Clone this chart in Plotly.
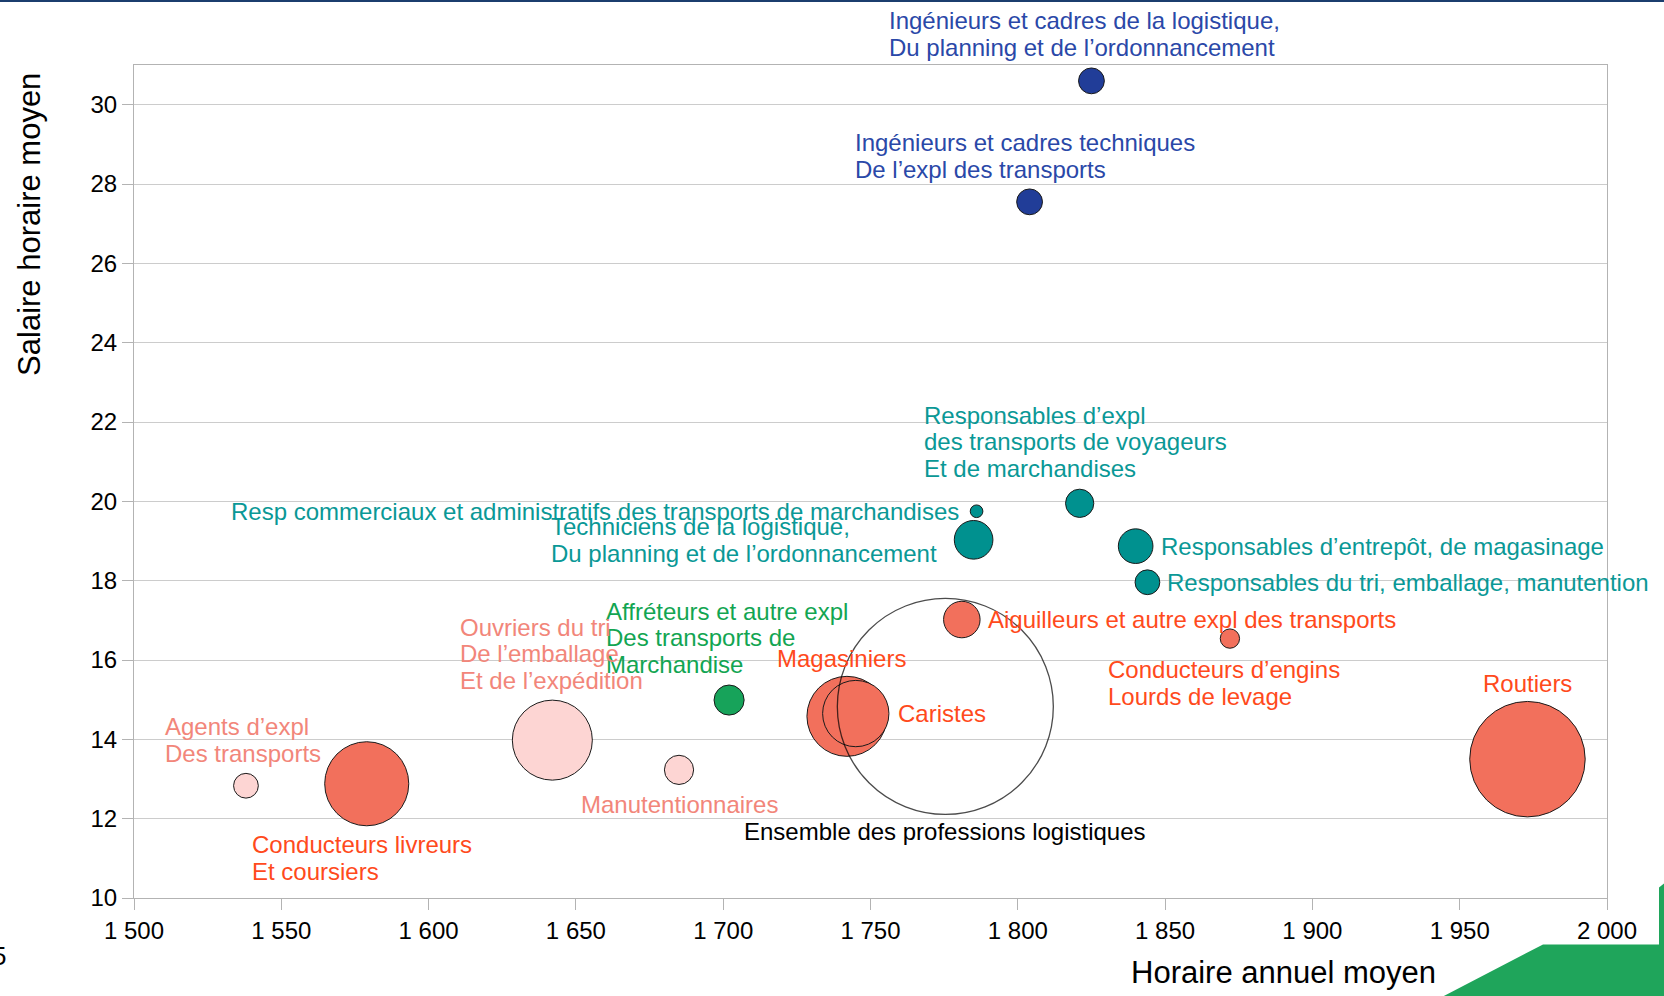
import plotly.graph_objects as go

# ---------- données ----------
metiers = [
    "Ingénieurs et cadres de la logistique",
    "Ingénieurs et cadres techniques",
    "Responsables d'expl voyageurs/marchandises",
    "Resp commerciaux et administratifs",
    "Techniciens de la logistique",
    "Responsables d'entrepôt",
    "Responsables du tri",
    "Aiguilleurs",
    "Conducteurs d'engins",
    "Routiers",
    "Magasiniers",
    "Caristes",
    "Affréteurs",
    "Manutentionnaires",
    "Ouvriers du tri",
    "Conducteurs livreurs",
    "Agents d'expl",
]
horaire_annuel = [1825, 1804, 1821, 1786, 1785, 1840, 1844, 1781, 1872,
                  1973, 1742, 1745, 1702, 1685, 1642, 1579, 1538]
salaire_horaire = [30.6, 27.55, 19.95, 19.75, 19.03, 18.87, 17.96, 17.02, 16.54,
                   13.5, 14.58, 14.65, 14.99, 13.23, 13.98, 12.88, 12.83]
effectifs = [25, 25, 30, 6, 56, 45, 23, 50, 14,
             500, 240, 165, 34, 32, 240, 265, 23]   # milliers (taille des bulles)
familles = ["cadre", "cadre", "resp", "resp", "resp", "resp", "resp", "cond", "cond",
            "cond", "cond", "cond", "affr", "ouvr", "ouvr", "cond", "ouvr"]

ensemble_x = [1775.4]
ensemble_y = [14.83]
ensemble_eff = [1750]

etiquettes = [
    ["Ingénieurs et cadres de la logistique,", "Du planning et de l’ordonnancement"],
    ["Ingénieurs et cadres techniques", "De l’expl des transports"],
    ["Responsables d’expl", "des transports de voyageurs", "Et de marchandises"],
    ["Resp commerciaux et administratifs des transports de marchandises"],
    ["Techniciens de la logistique,", "Du planning et de l’ordonnancement"],
    ["Responsables d’entrepôt, de magasinage"],
    ["Responsables du tri, emballage, manutention"],
    ["Aiguilleurs et autre expl des transports"],
    ["Conducteurs d’engins", "Lourds de levage"],
    ["Routiers"],
    ["Magasiniers"],
    ["Caristes"],
    ["Affréteurs et autre expl", "Des transports de", "Marchandise"],
    ["Manutentionnaires"],
    ["Ouvriers du tri", "De l’emballage", "Et de l’expédition"],
    ["Conducteurs livreurs", "Et coursiers"],
    ["Agents d’expl", "Des transports"],
]
ensemble_label = ["Ensemble des professions logistiques"]

x_ticks = [1500, 1550, 1600, 1650, 1700, 1750, 1800, 1850, 1900, 1950, 2000]
y_ticks = [10, 12, 14, 16, 18, 20, 22, 24, 26, 28, 30]

# ---------- styles ----------
FILL = {"cadre": "#213D98", "resp": "#00918F", "cond": "#F2705C",
        "affr": "#17A35A", "ouvr": "#FDD5D3"}
TEXT = {"cadre": "#2A48A8", "resp": "#0A9896", "cond": "#FF4A1C",
        "affr": "#12A552", "ouvr": "#F2867A"}
# (ancrage, décalage x px, décalage y px de la 1re ligne)
LABEL_POS = [
    ("left", -204, 60), ("left", -177, 59), ("left", -158, 88), ("right", -16, 0),
    ("left", -425, 13), ("left", 23, 0), ("left", 18, 0), ("left", 24, 0),
    ("left", -124, -31), ("center", 0, 76), ("center", -5, 58), ("left", 40, 0),
    ("left", -125, 89), ("center", 0, -35), ("left", -94, 113), ("left", -117, -61),
    ("left", -83, 59),
]
LH = 26.5
FONT = "Liberation Sans, Arial, sans-serif"
W, H = 1664, 996
L, R, T, B = 134, 57, 65, 97.5
PW, PH = W - L - R, H - T - B


def px(xp, yp):
    return (xp - L) / PW, (H - B - yp) / PH


sizeref = 2.0 * ensemble_eff[0] / 216 ** 2

fig = go.Figure()
fig.add_trace(go.Scatter(
    x=horaire_annuel, y=salaire_horaire, mode="markers", text=metiers,
    marker=dict(size=effectifs, sizemode="area", sizeref=sizeref,
                color=[FILL[f] for f in familles],
                line=dict(color="#1a1a1a", width=1), opacity=1),
    showlegend=False, hoverinfo="text"))
fig.add_trace(go.Scatter(
    x=ensemble_x, y=ensemble_y, mode="markers",
    marker=dict(size=ensemble_eff, sizemode="area", sizeref=sizeref,
                color="rgba(0,0,0,0)", line=dict(color="#000000", width=1.3)),
    showlegend=False, hoverinfo="skip"))

annots = []
for i, lines in enumerate(etiquettes):
    anchor, dx, dy = LABEL_POS[i]
    for k, line in enumerate(lines):
        annots.append(dict(x=horaire_annuel[i], y=salaire_horaire[i], xref="x", yref="y",
                           text=line, showarrow=False, xanchor=anchor, yanchor="middle",
                           xshift=dx, yshift=dy - k * LH,
                           font=dict(family=FONT, size=24, color=TEXT[familles[i]])))
annots.append(dict(x=ensemble_x[0], y=ensemble_y[0], xref="x", yref="y",
                   text=ensemble_label[0], showarrow=False, xanchor="center",
                   yanchor="middle", yshift=-125,
                   font=dict(family=FONT, size=24, color="#000000")))

# titres d'axes
tx, ty = px(1283, 973)
annots.append(dict(x=tx, y=ty, xref="paper", yref="paper", text="Horaire annuel moyen",
                   showarrow=False, xanchor="center", yanchor="middle",
                   font=dict(family=FONT, size=31, color="#000")))
tx, ty = px(30, 225)
annots.append(dict(x=tx, y=ty, xref="paper", yref="paper", text="Salaire horaire moyen",
                   showarrow=False, xanchor="center", yanchor="middle", textangle=-90,
                   font=dict(family=FONT, size=31, color="#000")))
tx, ty = px(8, 957)
annots.append(dict(x=tx, y=ty, xref="paper", yref="paper", text="5",
                   showarrow=False, xanchor="right", yanchor="middle",
                   font=dict(family=FONT, size=26, color="#000")))

# décor : filet bleu en haut, forme verte en bas à droite
x0, y0 = px(0, 1)
x1, _ = px(W, 1)
shapes = [dict(type="line", xref="paper", yref="paper", x0=x0, x1=x1, y0=y0, y1=y0,
               line=dict(color="#1B3E6E", width=2))]
pts = [px(1443, 997), px(1543, 945), px(1659, 945), px(1659, 888), px(1664, 884), px(1665, 997)]
path = "M " + " L ".join(f"{a},{b}" for a, b in pts) + " Z"
shapes.append(dict(type="path", xref="paper", yref="paper", path=path,
                   fillcolor="#1FA55B", line=dict(width=0), layer="above"))

fig.update_layout(
    width=W, height=H, margin=dict(l=L, r=R, t=T, b=B),
    paper_bgcolor="white", plot_bgcolor="white",
    separators=", ",
    annotations=annots, shapes=shapes,
    xaxis=dict(range=[1500, 2000], tickvals=x_ticks, tickformat=",d",
               showgrid=False, zeroline=False, showline=True, mirror=True,
               linecolor="#b3b3b3", linewidth=1, ticks="outside", ticklen=11,
               tickcolor="#b3b3b3", tickfont=dict(family=FONT, size=24, color="#000")),
    yaxis=dict(range=[10, 31], tickvals=y_ticks, showgrid=True, gridcolor="#cccccc",
               gridwidth=1, zeroline=False, showline=True, mirror=True,
               linecolor="#b3b3b3", linewidth=1, ticks="outside", ticklen=11,
               tickcolor="#b3b3b3", tickfont=dict(family=FONT, size=24, color="#000")),
)

# page sans marge pour que la figure occupe toute la fenêtre
fig.write_html("out.html", config={"displayModeBar": False},
               post_script="document.body.style.margin='0';document.body.style.overflow='hidden';")
